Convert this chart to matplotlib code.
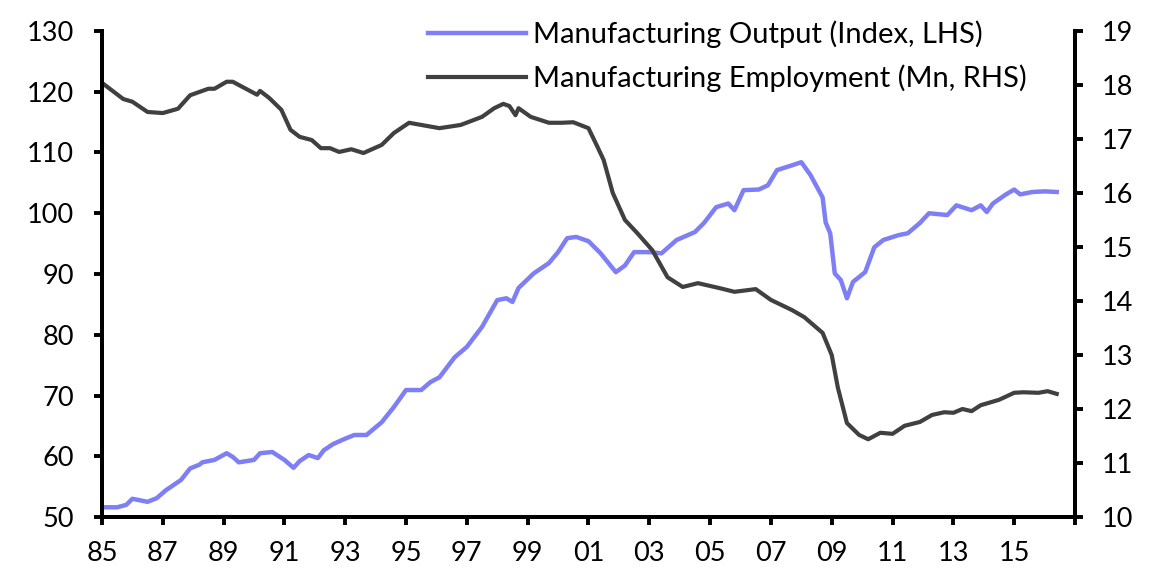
import numpy as np
import matplotlib
matplotlib.use("Agg")
import matplotlib.pyplot as plt

plt.rcParams['font.family'] = ['Lato', 'DejaVu Sans']

# Manufacturing output (index, LHS)
out_years = [1985.0, 1985.5, 1985.8, 1986.0, 1986.5, 1986.8, 1987.1, 1987.6, 1987.9, 1988.2,
             1988.3, 1988.7, 1989.1, 1989.3, 1989.5, 1990.0, 1990.2, 1990.6, 1991.0, 1991.3,
             1991.5, 1991.8, 1992.1, 1992.3, 1992.6, 1993.0, 1993.3, 1993.7, 1994.2, 1994.6,
             1995.0, 1995.5, 1995.8, 1996.1, 1996.6, 1997.0, 1997.5, 1998.0, 1998.3, 1998.5,
             1998.7, 1999.2, 1999.7, 2000.0, 2000.3, 2000.6, 2001.0, 2001.4, 2001.9, 2002.2,
             2002.5, 2003.0, 2003.4, 2003.9, 2004.5, 2004.8, 2005.2, 2005.6, 2005.8, 2006.1,
             2006.6, 2006.9, 2007.2, 2007.7, 2008.0, 2008.3, 2008.7, 2008.8, 2008.95, 2009.1,
             2009.3, 2009.5, 2009.7, 2010.1, 2010.4, 2010.7, 2011.2, 2011.5, 2011.9, 2012.2,
             2012.8, 2013.1, 2013.6, 2013.9, 2014.1, 2014.3, 2014.7, 2015.0, 2015.2, 2015.6,
             2016.0, 2016.4]
output = [51.6, 51.6, 52.0, 53.0, 52.5, 53.1, 54.4, 56.1, 58.0, 58.6,
          59.0, 59.4, 60.5, 59.9, 59.0, 59.4, 60.5, 60.7, 59.4, 58.1,
          59.2, 60.2, 59.7, 61.0, 62.0, 62.9, 63.5, 63.5, 65.6, 68.1,
          70.9, 70.9, 72.2, 73.0, 76.3, 78.0, 81.3, 85.7, 86.0, 85.4,
          87.7, 90.1, 91.8, 93.6, 95.9, 96.1, 95.4, 93.4, 90.3, 91.4,
          93.6, 93.6, 93.4, 95.6, 96.9, 98.4, 101.0, 101.6, 100.5, 103.8,
          103.9, 104.6, 107.1, 107.9, 108.4, 106.3, 102.6, 98.5, 96.7, 90.1,
          89.0, 86.0, 88.7, 90.3, 94.4, 95.6, 96.4, 96.7, 98.4, 100.0,
          99.7, 101.3, 100.5, 101.3, 100.2, 101.6, 103.0, 103.9, 103.1, 103.5,
          103.6, 103.5]

# Manufacturing employment (Mn, RHS)
emp_years = [1985.0, 1985.7, 1986.0, 1986.5, 1987.0, 1987.5, 1987.9, 1988.5, 1988.7, 1989.1,
             1989.3, 1989.8, 1990.0, 1990.1, 1990.2, 1990.5, 1990.9, 1991.2, 1991.5, 1991.9,
             1992.2, 1992.5, 1992.8, 1993.2, 1993.6, 1994.2, 1994.6, 1995.1, 1995.5, 1996.1,
             1996.8, 1997.5, 1997.9, 1998.2, 1998.4, 1998.6, 1998.7, 1999.1, 1999.7, 2000.1,
             2000.5, 2001.0, 2001.3, 2001.5, 2001.8, 2002.2, 2002.6, 2003.1, 2003.6, 2004.1,
             2004.6, 2005.3, 2005.8, 2006.5, 2007.0, 2007.7, 2008.1, 2008.7, 2009.0, 2009.2,
             2009.5, 2009.9, 2010.2, 2010.6, 2011.0, 2011.4, 2011.9, 2012.3, 2012.7, 2013.0,
             2013.3, 2013.6, 2013.9, 2014.5, 2015.0, 2015.3, 2015.8, 2016.1, 2016.4]
employment = [18.04, 17.74, 17.69, 17.50, 17.48, 17.56, 17.81, 17.93, 17.93, 18.06,
              18.06, 17.91, 17.85, 17.82, 17.89, 17.76, 17.54, 17.17, 17.04, 16.98,
              16.83, 16.83, 16.76, 16.81, 16.74, 16.89, 17.11, 17.30, 17.26, 17.20,
              17.26, 17.41, 17.57, 17.65, 17.61, 17.44, 17.57, 17.41, 17.30, 17.30,
              17.31, 17.20, 16.85, 16.61, 16.00, 15.50, 15.26, 14.94, 14.44, 14.26,
              14.33, 14.24, 14.17, 14.22, 14.02, 13.83, 13.70, 13.41, 13.00, 12.40,
              11.74, 11.52, 11.44, 11.56, 11.54, 11.69, 11.76, 11.89, 11.94, 11.93,
              12.00, 11.96, 12.07, 12.17, 12.30, 12.31, 12.30, 12.33, 12.28]

tick_years = list(range(1985, 2018, 2))
tick_labels = ['85', '87', '89', '91', '93', '95', '97', '99', '01', '03',
               '05', '07', '09', '11', '13', '15', '']

blue = '#7f7ff5'
dark = '#404040'

fig = plt.figure(figsize=(11.6, 5.8), dpi=100)
ax = fig.add_axes([0.0879, 0.1086, 0.8388, 0.838])
ax2 = ax.twinx()

l1, = ax.plot(out_years, output, color=blue, lw=3.2, label='Manufacturing Output (Index, LHS)')
l2, = ax2.plot(emp_years, employment, color=dark, lw=3.0, label='Manufacturing Employment (Mn, RHS)')

ax.set_xlim(1985, 2017)
ax.set_ylim(50, 130)
ax2.set_ylim(10, 19)
ax.set_yticks(range(50, 131, 10))
ax2.set_yticks(range(10, 20))
ax.set_xticks(tick_years)
ax.set_xticklabels(tick_labels)

for a in (ax, ax2):
    a.spines['top'].set_visible(False)
    for s in ('left', 'right', 'bottom'):
        a.spines[s].set_linewidth(2.8)
        a.spines[s].set_color('black')
ax.tick_params(axis='both', labelsize=19.5, width=2.8, length=6, direction='out', pad=14)
ax.tick_params(axis='x', pad=11)
ax2.tick_params(axis='y', labelsize=19.5, width=2.8, length=6, direction='out', pad=13)

leg = ax.legend(handles=[l1, l2], loc='upper left', bbox_to_anchor=(0.323, 1.045),
                frameon=False, fontsize=21, handlelength=3.36, handletextpad=0.25,
                labelspacing=0.56, borderaxespad=0)

plt.savefig('out.png', dpi=100)
plt.close()
